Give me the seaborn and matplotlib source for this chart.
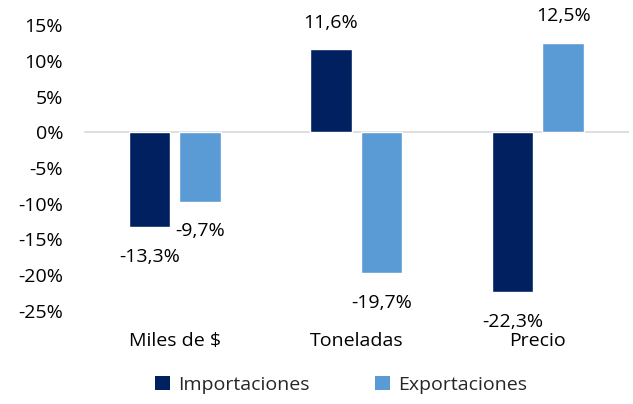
import matplotlib
matplotlib.use("Agg")
import matplotlib.pyplot as plt
import seaborn as sns
import pandas as pd
from matplotlib.patches import Patch

categories = ["Miles de $", "Toneladas", "Precio"]
series = ["Importaciones", "Exportaciones"]
importaciones = [-13.3, 11.6, -22.3]
exportaciones = [-9.7, -19.7, 12.5]
yticks = [15, 10, 5, 0, -5, -10, -15, -20, -25]
colors = ["#002060", "#5B9BD5"]

sns.set_theme(style="white")
plt.rcParams["font.family"] = ["Open Sans", "DejaVu Sans"]
FS = 14

df = pd.DataFrame({
    "cat": categories * 2,
    "serie": [series[0]] * 3 + [series[1]] * 3,
    "val": importaciones + exportaciones,
})

fig = plt.figure(figsize=(6.33, 4.04), dpi=100)
ax = fig.add_axes([84 / 633, 1 - 311 / 404, 544.5 / 633, 286 / 404])
sns.barplot(data=df, x="cat", y="val", hue="serie", palette=colors,
            width=0.56, gap=0.18, ax=ax, legend=False, saturation=1)

ax.set_ylim(-25, 15)
ax.set_xlim(-0.5, 2.5)
ax.set_yticks(yticks)
ax.set_yticklabels([f"{t}%" for t in yticks], fontsize=FS, color="#000000")
ax.tick_params(axis="y", length=0, pad=15)
ax.tick_params(axis="x", length=0, pad=15, labelsize=FS, labelcolor="#000000")
ax.set_xlabel("")
ax.set_ylabel("")
for s in ax.spines.values():
    s.set_visible(False)
ax.axhline(0, color="#D9D9D9", lw=1.2, zorder=0.5)

for cont in ax.containers:
    for bar in cont:
        h = bar.get_height()
        x = bar.get_x() + bar.get_width() / 2
        off = 19 if h >= 0 else -21.5
        ax.annotate(f"{h:.1f}%".replace(".", ","), (x, h), xytext=(0, off),
                    textcoords="offset points", ha="center", va="center",
                    fontsize=FS, color="#000000", annotation_clip=False)

handles = [Patch(facecolor=c, edgecolor="none") for c in colors]
fig.legend(handles, series, loc="center", bbox_to_anchor=(341 / 633, 1 - 385 / 404),
           ncol=2, frameon=False, fontsize=FS, handlelength=0.75, handleheight=0.75,
           handletextpad=0.4, columnspacing=3.4)

fig.savefig("out.png", dpi=100)
